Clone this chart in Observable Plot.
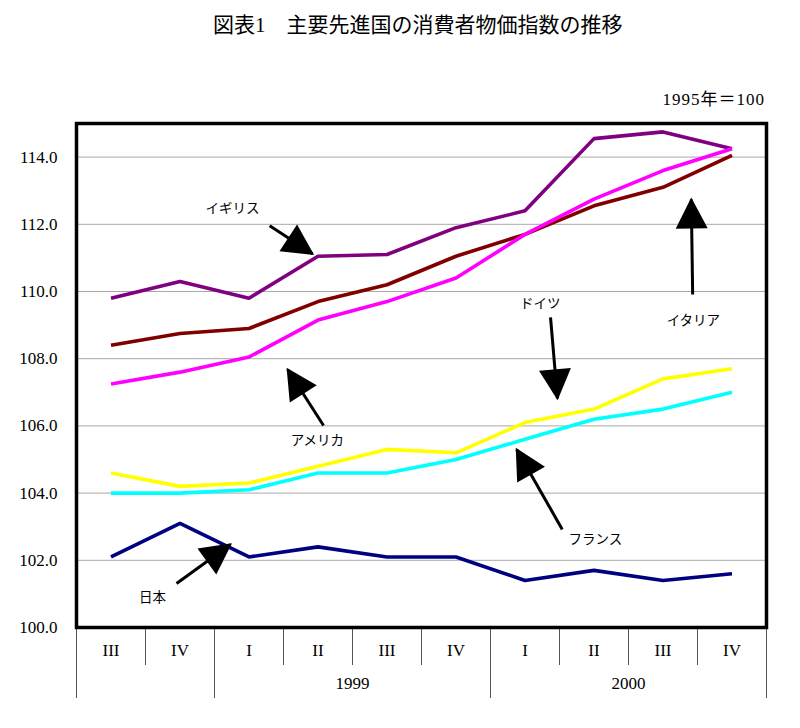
<!DOCTYPE html>
<html>
<head>
<meta charset="utf-8">
<script src="https://cdn.jsdelivr.net/npm/d3@7"></script>
<script src="https://cdn.jsdelivr.net/npm/@observablehq/plot@0.6"></script>
<style>
  body { margin: 0; background: white; }
  #head { position: relative; width: 800px; height: 112px; }
  #title { position: absolute; left: 213px; top: 15px; font-size: 21px; line-height: 1; white-space: nowrap;
           font-family: "Liberation Serif", "Times New Roman", "DejaVu Serif", "Noto Sans CJK JP", serif; color: #000; }
  #unit { position: absolute; right: 35px; top: 91px; font-size: 17px; line-height: 1; letter-spacing: 1px;
          font-family: "Liberation Serif", "Times New Roman", "DejaVu Serif", "Noto Sans CJK JP", serif; color: #000; white-space: nowrap; }
</style>
</head>
<body>
<div id="head"><div id="title"></div><div id="unit"></div></div>
<div id="chart"></div>
<script>
const titleText = "図表1　主要先進国の消費者物価指数の推移";
const unitText = "1995年＝100";

// quarters (x categories) and the year each belongs to
const quarters = ["III", "IV", "I", "II", "III", "IV", "I", "II", "III", "IV"];
const quarterYear = ["1998", "1998", "1999", "1999", "1999", "1999", "2000", "2000", "2000", "2000"];
const labeledYears = ["1999", "2000"];

// y ticks
const yTicks = [100, 102, 104, 106, 108, 110, 112, 114];

// series
const seriesNames = ["イギリス", "イタリア", "アメリカ", "ドイツ", "フランス", "日本"];
const seriesColors = ["#800080", "#800000", "#ff00ff", "#ffff00", "#00ffff", "#000080"];
const uk      = [109.8, 110.3, 109.8, 111.05, 111.1, 111.9, 112.4, 114.55, 114.75, 114.25];
const italy   = [108.4, 108.75, 108.9, 109.7, 110.2, 111.05, 111.7, 112.55, 113.1, 114.05];
const usa     = [107.25, 107.6, 108.05, 109.15, 109.7, 110.4, 111.7, 112.75, 113.6, 114.25];
const germany = [104.6, 104.2, 104.3, 104.8, 105.3, 105.2, 106.1, 106.5, 107.4, 107.7];
const france  = [104.0, 104.0, 104.1, 104.6, 104.6, 105.0, 105.6, 106.2, 106.5, 107.0];
const japan   = [102.1, 103.1, 102.1, 102.4, 102.1, 102.1, 101.4, 101.7, 101.4, 101.6];
const seriesValues = [uk, italy, usa, germany, france, japan];

// annotation labels with arrows (data coordinates: quarter index, index value)
const annoLabel = ["イギリス", "イタリア", "ドイツ", "アメリカ", "フランス", "日本"];
const annoTextX = [2.26, 8.94, 6.72, 3.49, 7.52, 1.10];
const annoTextY = [112.47, 109.14, 109.64, 105.57, 102.62, 100.89];
const arrowFromX = [2.80, 8.93, 6.87, 3.58, 7.04, 1.45];
const arrowFromY = [111.96, 109.91, 109.23, 106.01, 102.92, 101.31];
const arrowToX = [3.42, 8.91, 6.97, 3.06, 6.38, 2.23];
const arrowToY = [111.12, 112.74, 106.82, 107.68, 105.30, 102.47];

document.getElementById("title").textContent = titleText;
document.getElementById("unit").textContent = unitText;

const n = quarters.length;
const rows = [];
seriesNames.forEach((name, s) => {
  seriesValues[s].forEach((v, i) => rows.push({series: name, i: i + 0.5, v}));
});

// year boundaries: where the year changes, plus both ends
const yearBounds = [0];
for (let i = 1; i < n; i++) if (quarterYear[i] !== quarterYear[i - 1]) yearBounds.push(i);
yearBounds.push(n);
const yearLabelData = labeledYears.map(y => {
  const idx = quarterYear.map((q, i) => q === y ? i : -1).filter(i => i >= 0);
  return {year: y, x: d3.mean(idx) + 0.5};
});

const annos = annoLabel.map((label, k) => ({
  label, tx: annoTextX[k], ty: annoTextY[k],
  x1: arrowFromX[k], y1: arrowFromY[k], x2: arrowToX[k], y2: arrowToY[k]
}));

const arrowHead = (color, context) => {
  const doc = (context && context.document) || document;
  const ns = "http://www.w3.org/2000/svg";
  const m = doc.createElementNS(ns, "marker");
  m.setAttribute("viewBox", "-34 -17 36 34");
  m.setAttribute("markerWidth", 36);
  m.setAttribute("markerHeight", 34);
  m.setAttribute("markerUnits", "userSpaceOnUse");
  m.setAttribute("orient", "auto");
  m.setAttribute("refX", -2);
  m.setAttribute("refY", 0);
  const p = doc.createElementNS(ns, "path");
  p.setAttribute("d", "M0,0L-31,-16L-31,16Z");
  p.setAttribute("fill", "black");
  p.setAttribute("stroke", "none");
  m.appendChild(p);
  return m;
};

const serif = "Liberation Serif, Times New Roman, DejaVu Serif, Noto Sans CJK JP, serif";

const chart = Plot.plot({
  width: 800,
  height: 600,
  marginTop: 11,
  marginBottom: 85,
  marginLeft: 76,
  marginRight: 34,
  style: {background: "white", fontFamily: serif, color: "black"},
  x: {domain: [0, n], axis: null},
  y: {domain: [100, 115], axis: null},
  color: {domain: seriesNames, range: seriesColors},
  marks: [
    Plot.gridY(yTicks.filter(v => v > 100), {stroke: "#a8a8a8", strokeOpacity: 1}),
    Plot.text(yTicks, {y: d => d, text: d => d.toFixed(1), frameAnchor: "left", textAnchor: "end", dx: -19, fontSize: 17, fontFamily: serif, fill: "black"}),
    Plot.tickX(d3.range(n + 1), {x: d => d, frameAnchor: "bottom"}) && Plot.axisX(d3.range(n + 1), {tickSize: 38, tickFormat: () => "", stroke: "#555", label: null}),
    Plot.axisX(yearBounds, {tickSize: 71, tickFormat: () => "", stroke: "#555", label: null}),
    Plot.text(quarters, {x: (d, i) => i + 0.5, text: d => d, frameAnchor: "bottom", dy: 28, fontSize: 17, fontFamily: serif, fill: "black"}),
    Plot.text(yearLabelData, {x: "x", text: "year", frameAnchor: "bottom", dy: 61, fontSize: 17, fontFamily: serif, fill: "black"}),
    Plot.line(rows, {x: "i", y: "v", z: "series", stroke: "series", strokeWidth: 3.6, strokeLinejoin: "miter", strokeLinecap: "butt"}),
    Plot.link(annos, {x1: "x1", y1: "y1", x2: "x2", y2: "y2", stroke: "black", strokeWidth: 3, markerEnd: arrowHead}),
    Plot.text(annos, {x: "tx", y: "ty", text: "label", fontSize: 13.5, fontFamily: "Noto Sans CJK JP, sans-serif", fill: "black"}),
    Plot.frame({stroke: "black", strokeWidth: 3.5})
  ]
});
document.getElementById("chart").appendChild(chart);
</script>
</body>
</html>
